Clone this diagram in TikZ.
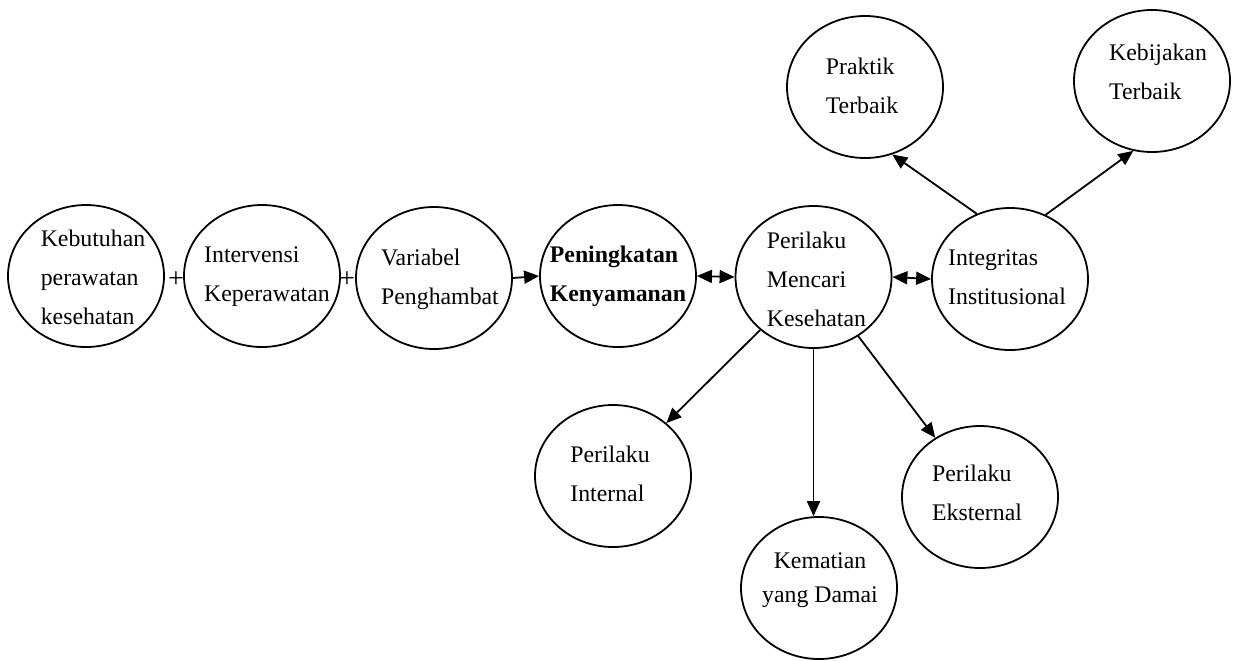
\documentclass[tikz,border=0pt]{standalone}
\usepackage{fontspec}
\setmainfont{Liberation Serif}
\usetikzlibrary{shapes.geometric,arrows.meta}
\begin{document}
\begin{tikzpicture}[x=0.5pt,y=-0.5pt,
  bubble/.style={draw,ellipse,line width=0.9pt,minimum width=78pt,minimum height=71pt,inner sep=0pt},
  txt/.style={align=left,font=\fontsize{11.9}{19.5}\selectfont,inner sep=0pt},
  arr/.style={line width=0.9pt,-{Triangle[length=7.5pt,width=6.5pt]}},
  darr/.style={line width=0.9pt,{Triangle[length=7.5pt,width=6.5pt]}-{Triangle[length=7.5pt,width=6.5pt]}}]
\useasboundingbox (0,0) rectangle (1235,660);

\node[bubble,label={[txt,xshift=3.5pt,yshift=-0.5pt]center:{Kebutuhan\\perawatan\\kesehatan}}] (keb) at (86,276) {};
\node[bubble,label={[txt,xshift=2.5pt,yshift=-0.5pt]center:{Intervensi\\Keperawatan}}] (intv) at (262,276) {};
\node[bubble,label={[txt,xshift=3pt,yshift=-0.5pt]center:{Variabel\\Penghambat}}] (var) at (434,278) {};
\node[bubble,label={[txt,font=\fontsize{11.9}{19.5}\selectfont\bfseries]center:{Peningkatan\\Kenyamanan}}] (pen) at (618,276) {};
\node[bubble,label={[txt,xshift=1.5pt,yshift=-1pt]center:{Perilaku\\Mencari\\Kesehatan}}] (men) at (813.5,277) {};
\node[bubble,label={[txt,xshift=-1.5pt,yshift=1pt]center:{Integritas\\Institusional}}] (int) at (1010,279) {};
\node[bubble,label={[txt,xshift=-1.5pt,yshift=0.5pt]center:{Praktik\\Terbaik}}] (pra) at (865,87) {};
\node[bubble,label={[txt,xshift=3pt,yshift=4.5pt]center:{Kebijakan\\Terbaik}}] (kbj) at (1152,81) {};
\node[bubble,label={[txt,xshift=-1.5pt,yshift=1pt]center:{Perilaku\\Internal}}] (inl) at (613,476) {};
\node[bubble,label={[txt,align=center,font=\fontsize{11.9}{17}\selectfont,xshift=0.5pt,yshift=4pt]center:{Kematian\\yang Damai}}] (kem) at (819,588) {};
\node[bubble,label={[txt,xshift=-1.5pt,yshift=2pt]center:{Perilaku\\Eksternal}}] (eks) at (980,497) {};

\node[txt,font=\fontsize{14}{16}\selectfont] (p1) at (176,280) {+};
\node[txt,font=\fontsize{14}{16}\selectfont] (p2) at (347,280) {+};

\draw[arr] (var.east) -- (pen.west);
\draw[darr] (pen.east) -- (men.west);
\draw[darr] (men.east) -- (int.west);
\draw[arr] (int.117) -- (pra.-68);
\draw[arr] (int.61) -- (kbj.-105);
\draw[arr] (men) -- (inl);
\draw[arr] (men.south) -- (men.south |- kem.north);
\draw[arr] (men) -- (eks);
\end{tikzpicture}
\end{document}
